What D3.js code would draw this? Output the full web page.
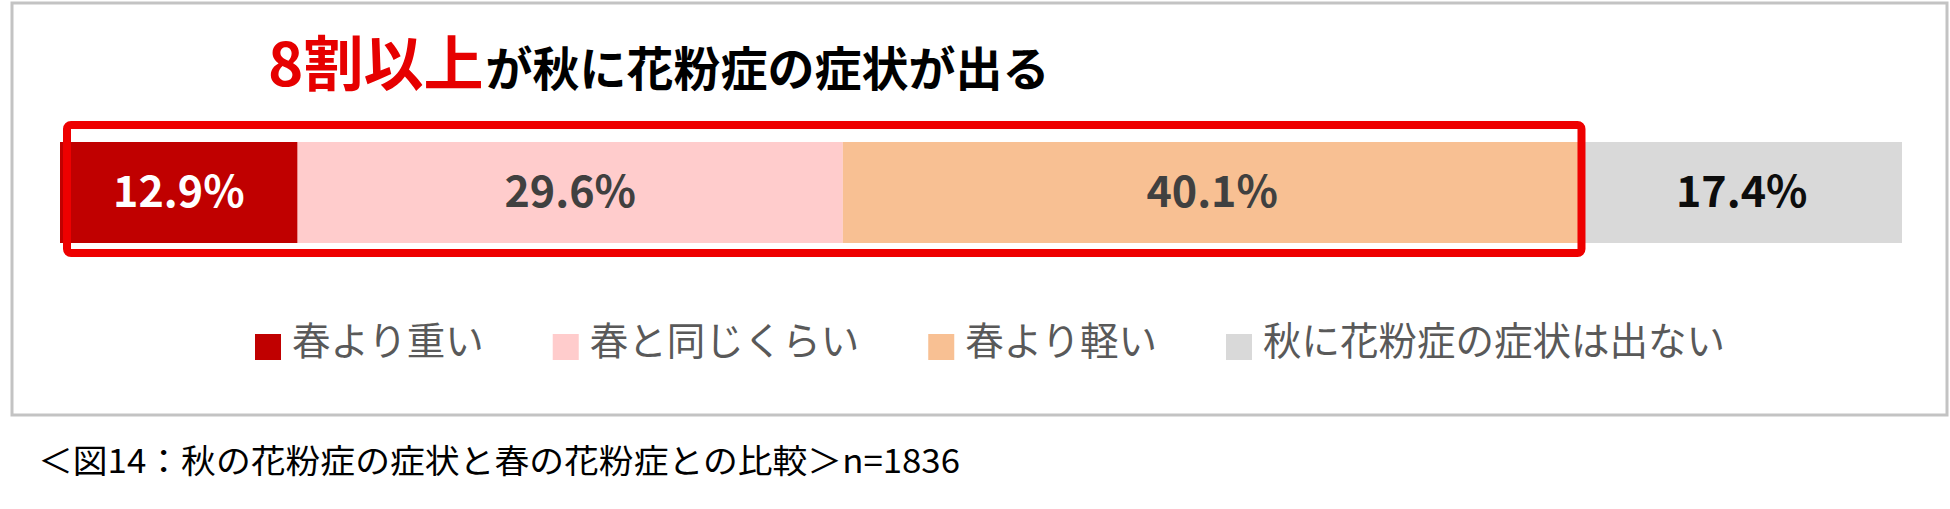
<!DOCTYPE html>
<html>
<head>
    <meta charset="utf-8">
    <style type="text/css">
        body { margin: 0; background: #ffffff; }
        text { font-family: "Noto Sans CJK JP", "Noto Sans", sans-serif; }
    </style>
    <script src="https://d3js.org/d3.v7.min.js"></script>
</head>
<body>
    <div id="chart"></div>
    <script>
        // data
        const categories = ["春より重い", "春と同じくらい", "春より軽い", "秋に花粉症の症状は出ない"];
        const values = [12.9, 29.6, 40.1, 17.4];
        const colors = ["#c00000", "#ffcccc", "#f8c093", "#d9d9d9"];
        const labelColors = ["#ffffff", "#404040", "#404040", "#0d0d0d"];
        const titleRed = "8割以上";
        const titleBlack = "が秋に花粉症の症状が出る";
        const caption = "＜図14：秋の花粉症の症状と春の花粉症との比較＞n=1836";
        const boxedCount = 3; // first three segments are framed in red

        const width = 1950;
        const height = 509;

        const svg = d3.select("#chart")
            .append("svg")
            .attr("width", width)
            .attr("height", height);

        // outer frame
        svg.append("rect")
            .attr("x", 12)
            .attr("y", 3)
            .attr("width", 1935)
            .attr("height", 412)
            .attr("fill", "none")
            .attr("stroke", "#c3c3c3")
            .attr("stroke-width", 3);

        // title
        const title = svg.append("text")
            .attr("x", 268)
            .attr("y", 86)
            .attr("font-weight", "bold");
        title.append("tspan")
            .attr("fill", "#e60000")
            .attr("font-size", 60)
            .text(titleRed);
        title.append("tspan")
            .attr("fill", "#000000")
            .attr("font-size", 47)
            .attr("dx", 2)
            .text(titleBlack);

        // stacked bar
        const starts = d3.cumsum([0].concat(values)).slice(0, values.length);
        const data = values.map((v, i) => ({ cat: categories[i], value: v, start: starts[i], i: i }));

        const x = d3.scaleLinear()
            .domain([0, d3.sum(values)])
            .range([60, 1902]);

        const barTop = 142;
        const barH = 101;

        svg.selectAll("rect.seg")
            .data(data)
            .enter().append("rect")
            .attr("class", "seg")
            .attr("x", d => x(d.start))
            .attr("y", barTop)
            .attr("width", d => x(d.start + d.value) - x(d.start))
            .attr("height", barH)
            .attr("fill", d => colors[d.i]);

        svg.selectAll("text.val")
            .data(data)
            .enter().append("text")
            .attr("class", "val")
            .attr("x", d => x(d.start + d.value / 2))
            .attr("y", 207)
            .attr("text-anchor", "middle")
            .attr("font-family", "'Noto Sans', sans-serif")
            .attr("font-weight", "bold")
            .attr("font-size", 43)
            .attr("fill", d => labelColors[d.i])
            .text(d => d.value.toFixed(1) + "%");

        // red frame round the first three segments
        const boxEnd = d3.sum(values.slice(0, boxedCount));
        svg.append("rect")
            .attr("x", x(0) + 7)
            .attr("y", 125)
            .attr("width", x(boxEnd) - x(0) - 7)
            .attr("height", 128)
            .attr("rx", 4)
            .attr("fill", "none")
            .attr("stroke", "#ee0000")
            .attr("stroke-width", 8);

        // legend
        let lx = 255;
        categories.forEach((c, i) => {
            svg.append("rect")
                .attr("x", lx)
                .attr("y", 334)
                .attr("width", 26)
                .attr("height", 26)
                .attr("fill", colors[i]);
            const t = svg.append("text")
                .attr("x", lx + 37)
                .attr("y", 355)
                .attr("font-size", 38.5)
                .attr("fill", "#595959")
                .text(c);
            lx = lx + 37 + t.node().getComputedTextLength() + 69;
        });

        // caption
        svg.append("text")
            .attr("x", 38)
            .attr("y", 473)
            .attr("font-size", 33)
            .attr("fill", "#000000")
            .attr("textLength", 922)
            .attr("lengthAdjust", "spacingAndGlyphs")
            .text(caption);
    </script>
</body>
</html>
